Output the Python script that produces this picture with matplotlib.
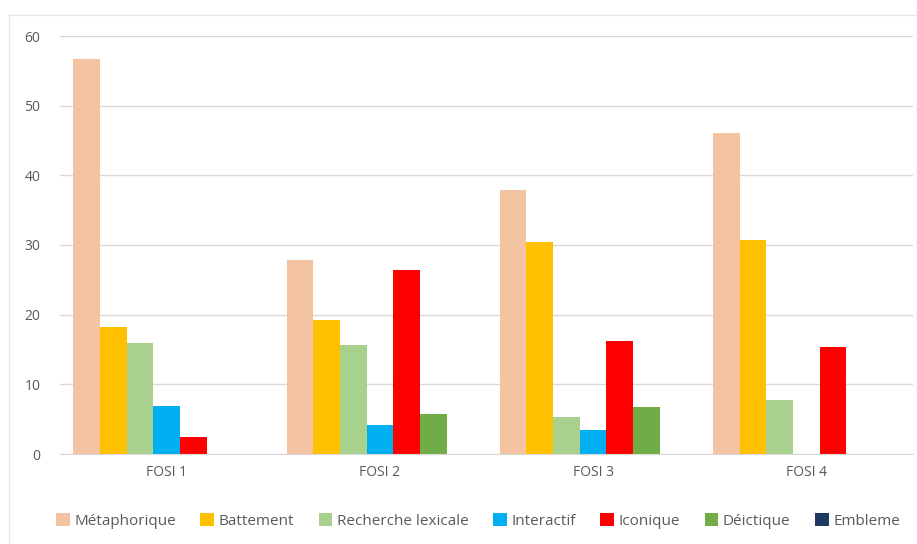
import matplotlib
matplotlib.use("Agg")
import matplotlib.pyplot as plt
import numpy as np
from matplotlib.patches import Rectangle

plt.rcParams['font.family'] = ['Open Sans', 'DejaVu Sans']

categories = ["FOSI 1", "FOSI 2", "FOSI 3", "FOSI 4"]
series_names = ["Métaphorique", "Battement", "Recherche lexicale", "Interactif",
                "Iconique", "Déictique", "Embleme"]
metaphorique = [56.7, 27.8, 37.9, 46.1]
battement = [18.2, 19.2, 30.4, 30.7]
recherche = [15.9, 15.6, 5.3, 7.7]
interactif = [6.9, 4.2, 3.4, 0]
iconique = [2.4, 26.4, 16.2, 15.4]
deictique = [0, 5.7, 6.7, 0]
embleme = [0, 0, 0, 0]
series = [metaphorique, battement, recherche, interactif, iconique, deictique, embleme]
colors = ["#F4C3A1", "#FFC000", "#A9D18E", "#00B0F0", "#FF0000", "#70AD47", "#1F3864"]

fig = plt.figure(figsize=(9.17, 5.44), dpi=100)
ax = fig.add_axes([60/917, 1-454/544, 853/917, (454-36)/544])

x = np.arange(len(categories))
w = 0.125
n = len(series)
for i, (vals, c, name) in enumerate(zip(series, colors, series_names)):
    ax.bar(x + (i - (n-1)/2) * w, vals, width=w, color=c, label=name, linewidth=0)

ax.set_xlim(-0.5, len(categories)-0.5)
ax.set_ylim(0, 60)
ax.set_yticks(range(0, 61, 10))
ax.set_xticks(x)
ax.set_xticklabels(categories)
ax.yaxis.grid(True, color="#D9D9D9", linewidth=1)
ax.set_axisbelow(True)
for s in ["top", "right", "left"]:
    ax.spines[s].set_visible(False)
ax.spines["bottom"].set_color("#D9D9D9")
ax.tick_params(axis="both", length=0, colors="#595959", labelsize=10)
ax.tick_params(axis="y", pad=14)
ax.tick_params(axis="x", pad=8)

leg = fig.legend(loc="center", bbox_to_anchor=(478/917, 1-521/544), ncol=7, frameon=False,
                 handlelength=0.9, handleheight=0.9, handletextpad=0.3, columnspacing=1.6,
                 fontsize=11, labelcolor="#595959")

fig.patches.append(Rectangle((9/917, -0.05), 1.0, 1-15/544+0.05, transform=fig.transFigure,
                             fill=False, edgecolor="#E6E6E6", linewidth=1))

fig.savefig("out.png", dpi=100, facecolor="white")
